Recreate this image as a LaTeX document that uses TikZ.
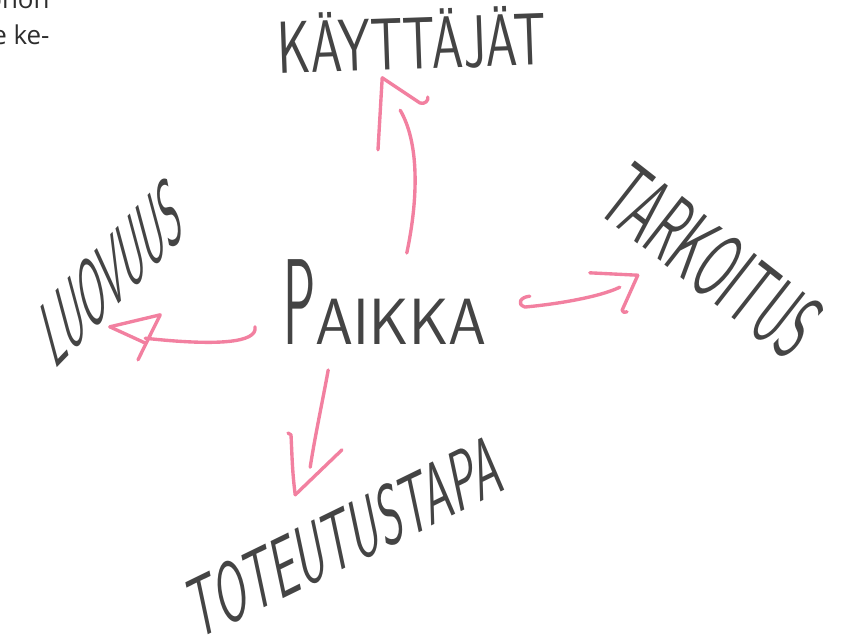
\documentclass[tikz,border=0pt]{standalone}
\usepackage{fontspec}
\usepackage{xcolor}
\usepackage{tikz}
\usetikzlibrary{calc}
\newfontfamily\pagefont{Open Sans}
\definecolor{pencil}{RGB}{68,68,68}
\definecolor{markerpink}{RGB}{242,128,160}
\definecolor{pagetext}{RGB}{45,45,45}

\begin{document}
\begin{tikzpicture}[
        word/.style={pencil, inner sep=0pt},
        pinkline/.style={markerpink, line width=1.6pt, line cap=round, line join=round}
    ]
            % Fix the page size
            \useasboundingbox (0,0) rectangle (14.05,10.567);

            % Cut-off text of the page
            \node[pagetext, font=\pagefont\fontsize{12.3}{16}\selectfont, anchor=base east] (line one) at (0.95,10.42) {onon};
            \node[pagetext, font=\pagefont\fontsize{12.3}{16}\selectfont, anchor=base east] (line two) at (0.95,9.83) {e ke-};

            % Draw the words
            \node[word, font=\sffamily\fontsize{35}{35}\selectfont, rotate=2, xscale=0.69] (kayttajat) at (6.86,9.9) {KÄYTTÄJÄT};
            \node[word, anchor=base west] (paikka) at (4.72,4.82) {\sffamily\fontsize{58}{58}\selectfont\scalebox{0.44}[1]{P}\fontsize{31}{31}\selectfont\scalebox{0.93}[1]{AIKKA}};
            \node[word, font=\sffamily\fontsize{43}{43}\selectfont, rotate=15, yslant=0.6, xscale=0.42] (luovuus) at (1.86,6.03) {LUOVUUS};
            \node[word, font=\sffamily\fontsize{44}{44}\selectfont, rotate=-38, xscale=0.51] (tarkoitus) at (11.86,6.22) {TARKOITUS};
            \node[word, font=\sffamily\fontsize{40}{40}\selectfont, rotate=12, yslant=0.25, xscale=0.54] (toteutustapa) at (5.75,1.62) {TOTEUTUSTAPA};

            % Arrow up
            \coordinate (up start) at (6.78,6.35);
            \coordinate (up end) at (6.67,8.73);
            \coordinate (up tip) at (6.37,9.27);
            \draw[pinkline] (up start) .. controls (6.98,7.3) and (6.98,8.2) .. (up end);
            \draw[pinkline] (up tip) -- ++(-0.07,-1.2);
            \draw[pinkline] (up tip) -- ++(0.63,-0.42) .. controls +(0.08,-0.03) and +(0.02,-0.05) .. ++(0.13,0.1);

            % Arrow left
            \coordinate (left start) at (4.25,5.12);
            \coordinate (left end) at (2.42,4.93);
            \coordinate (left tip) at (1.83,5.12);
            \draw[pinkline] (left start) .. controls (4.3,4.85) and (3.6,4.8) .. (left end);
            \draw[pinkline] (left tip) -- ++(0.84,0.2) -- ++(-0.37,-0.75);
            \draw[pinkline] (left tip) -- ++(0.59,-0.27);

            % Arrow right
            \coordinate (right start) at (8.83,5.63);
            \coordinate (right end) at (10.33,5.78);
            \coordinate (right tip) at (10.63,5.98);
            \draw[pinkline] (right start) .. controls (8.68,5.62) and (8.6,5.5) .. (8.75,5.45) .. controls (9.3,5.5) and (10.0,5.62) .. (right end);
            \draw[pinkline] (right tip) -- ++(-0.8,0.04);
            \draw[pinkline] (right tip) -- ++(-0.26,-0.58) .. controls +(0.02,-0.05) and +(-0.04,-0.01) .. ++(0.08,-0.03);

            % Arrow down
            \coordinate (down start) at (5.47,4.4);
            \coordinate (down end) at (5.17,2.78);
            \coordinate (down tip) at (4.92,2.32);
            \draw[pinkline] (down start) .. controls (5.38,3.9) and (5.25,3.3) .. (down end);
            \draw[pinkline] (down tip) .. controls +(-0.05,0.4) and +(0.02,-0.4) .. ++(-0.07,1.0) -- ++(-0.05,0.03);
            \draw[pinkline] (down tip) -- ++(0.78,0.75);

        \end{tikzpicture}
\end{document}
